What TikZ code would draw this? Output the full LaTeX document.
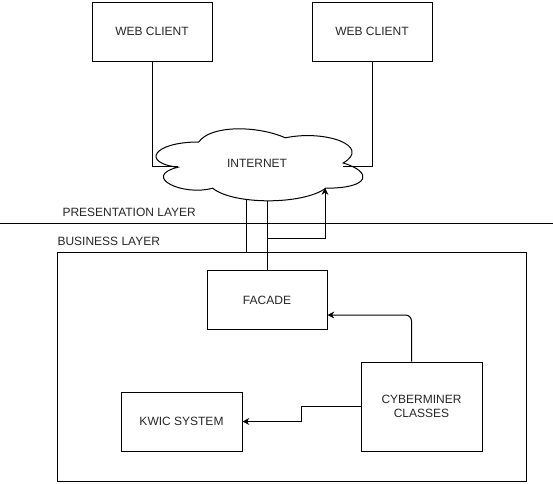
\documentclass[tikz,border=0pt]{standalone}
\usepackage{fontspec}
\setmainfont{Liberation Sans}
\usetikzlibrary{arrows.meta}
\tikzstyle{blockBox}=[shape = rectangle, draw, minimum width = 90pt, minimum height = 44.25pt, inner sep = 0pt, align = center]
\tikzstyle{layerLabel}=[anchor = west, inner sep = 0pt]
\tikzstyle{link}=[draw]
\tikzstyle{linkArrow}=[draw, -{Stealth[length=5pt, width=5pt, inset=1.5pt]}]

\begin{document}
\begin{tikzpicture}[x = 0.75pt, y = -0.75pt, line width = 0.75pt, font = \fontsize{9}{11}\selectfont, text = black!85]
\useasboundingbox (0,0) rectangle (553,483);
\node[blockBox] (web1) at (152,31.5) {WEB CLIENT};
\node[blockBox] (web2) at (372,31.5) {WEB CLIENT};
\begin{scope}[shift = {(141,121)}, xscale = 231, yscale = 84]
\draw (0.25,0.25) .. controls (0.05,0.25) and (0,0.5) .. (0.16,0.55)
  .. controls (0,0.66) and (0.18,0.9) .. (0.31,0.8)
  .. controls (0.4,1) and (0.7,1) .. (0.8,0.8)
  .. controls (1,0.8) and (1,0.6) .. (0.875,0.5)
  .. controls (1,0.3) and (0.8,0.1) .. (0.625,0.2)
  .. controls (0.5,0.05) and (0.3,0.05) .. (0.25,0.25) -- cycle;
\end{scope}
\node (internet) at (257,163) {INTERNET};
\coordinate (cloudL) at (178,166);
\coordinate (cloudR) at (343,166);
\coordinate (cloudB1) at (246,199);
\coordinate (cloudB2) at (267,201);
\coordinate (cloudB3) at (325,188);
\draw (0,223) -- (553,223);
\node[layerLabel] (presLabel) at (62,212) {PRESENTATION LAYER};
\node[layerLabel] (busLabel) at (57,241) {BUSINESS LAYER};
\node[draw, minimum width = 351.75pt, minimum height = 171.75pt, inner sep = 0pt] (business) at (291.5,366.5) {};
\node[blockBox] (facade) at (267,300) {FACADE};
\node[blockBox, minimum width = 90.75pt, minimum height = 66.75pt] (cyber) at (421.5,406.5) {CYBERMINER\\CLASSES};
\node[blockBox, minimum width = 90.75pt] (kwic) at (181.5,421.5) {KWIC SYSTEM};
\draw[link] (web1.south) |- (cloudL);
\draw[link] (web2.south) |- (cloudR);
\draw[link] (cloudB1) -- (cloudB1 |- business.north);
\draw[link] (facade.north) -- (cloudB2);
\draw[linkArrow] (facade.north) -- ++(0,-32) -| (cloudB3);
\draw[linkArrow, rounded corners = 4.5pt] ([xshift = -7.5pt]cyber.north) |- ([yshift = -11.25pt]facade.east);
\draw[linkArrow] (cyber.west) -- ++(-59,0) |- (kwic.east);
\end{tikzpicture}
\end{document}
